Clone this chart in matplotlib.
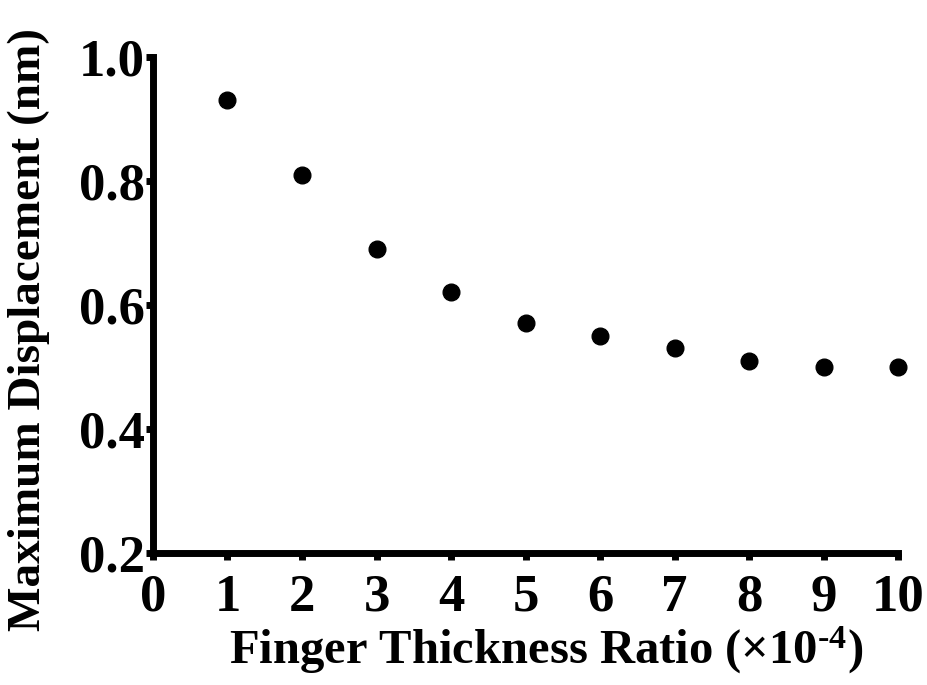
import matplotlib
matplotlib.use("Agg")
from matplotlib import pyplot as plt

ratio = [1, 2, 3, 4, 5, 6, 7, 8, 9, 10]
displacement = [0.93, 0.81, 0.69, 0.62, 0.57, 0.55, 0.53, 0.51, 0.50, 0.50]
x_ticks = [0, 1, 2, 3, 4, 5, 6, 7, 8, 9, 10]
y_ticks = [0.2, 0.4, 0.6, 0.8, 1.0]

plt.rcParams['font.family'] = ['Liberation Serif', 'DejaVu Serif']
plt.rcParams['font.weight'] = 'bold'
plt.rcParams['mathtext.fontset'] = 'custom'
plt.rcParams['mathtext.rm'] = 'Liberation Serif:bold'
plt.rcParams['mathtext.bf'] = 'Liberation Serif:bold'
plt.rcParams['mathtext.default'] = 'bf'

fig = plt.figure(figsize = (9.27, 6.85), dpi = 100)
ax = fig.add_axes([0.165, 0.193, 0.804, 0.724])
ax.plot(ratio, displacement, 'o', color = 'black', markersize = 12, clip_on = False)

ax.set_xlim(0, 10)
ax.set_ylim(0.2, 1.0)
ax.set_xticks(x_ticks)
ax.set_yticks(y_ticks)
ax.set_yticklabels(['%.1f' % v for v in y_ticks])

for side in ['top', 'right']:
    ax.spines[side].set_visible(False)
for side in ['left', 'bottom']:
    ax.spines[side].set_linewidth(5)
    ax.spines[side].set_capstyle('projecting')

ax.tick_params(axis = 'both', direction = 'out', length = 5, width = 5, labelsize = 38)
ax.tick_params(axis = 'x', pad = 10)
ax.tick_params(axis = 'y', pad = 1)

ax.set_xlabel('Finger Thickness Ratio ($\\times$10$^{\u20104}$)', fontsize = 35, fontweight = 'bold')
ax.set_ylabel('Maximum Displacement (nm)', fontsize = 34, fontweight = 'bold')
ax.xaxis.set_label_coords(0.527, -0.145)
ax.yaxis.set_label_coords(-0.138, 0.45)

fig.savefig('out.png', dpi = 100)
